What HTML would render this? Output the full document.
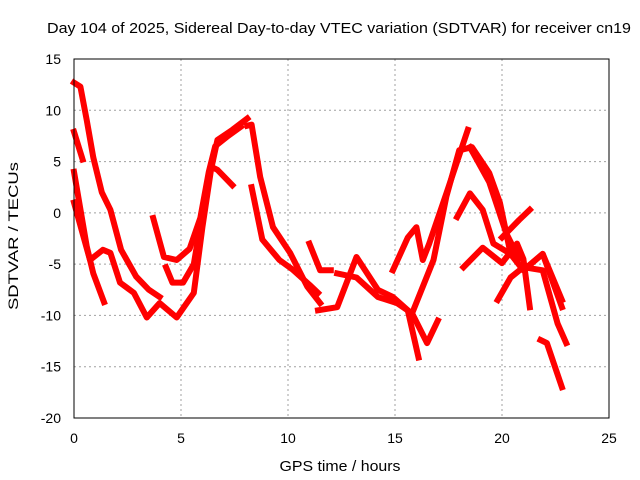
<!DOCTYPE html>
<html><head><meta charset="utf-8"><style>
body{margin:0;background:#fff}
svg{display:block;font-family:"Liberation Sans",sans-serif}
</style></head><body>
<svg id="chart" width="640" height="480" viewBox="0 0 640 480">
<text x="339" y="33" text-anchor="middle" font-size="15" textLength="584" lengthAdjust="spacingAndGlyphs">Day 104 of 2025, Sidereal Day-to-day VTEC variation (SDTVAR) for receiver cn19</text>
<text x="340" y="471" text-anchor="middle" font-size="15" textLength="121" lengthAdjust="spacingAndGlyphs">GPS time / hours</text>
<text transform="translate(18,236) rotate(-90)" text-anchor="middle" font-size="14" textLength="148" lengthAdjust="spacingAndGlyphs">SDTVAR / TECUs</text>
<g id="grid"></g><g id="series"></g>
<rect x="74" y="59" width="535" height="359" fill="none" stroke="#000" stroke-width="1"/>
</svg>
<script>
const xTicks=[0,5,10,15,20,25];
const yTicks=[15,10,5,0,-5,-10,-15,-20];
const s1h=[0,0.3,0.6,0.9,1.3,1.7,2.2,2.9,3.5,4.0];
const s1v=[12.7,12.3,9,5.4,2,0.3,-3.6,-6.2,-7.5,-8.2];
const s2h=[0,0.4];
const s2v=[7.9,5.2];
const s3h=[0,0.6,0.9,1.4];
const s3v=[4,-3.3,-5.9,-8.7];
const s4h=[0,0.75,1.35,1.7,2.15,2.8,3.4,4.0,4.8,5.6,6.0,6.4,6.7,7.4,8.1];
const s4v=[1,-4.6,-3.6,-3.9,-6.8,-7.8,-10.2,-8.8,-10.2,-7.8,-1.4,4.2,7.1,8.1,9.2];
const s5h=[3.7,4.2,4.8,5.4,5.9,6.3,6.6,7.2,7.8];
const s5v=[-0.5,-4.3,-4.6,-3.5,-0.5,4,6.5,7.5,8.4];
const s6h=[4.3,4.6,5.1,5.6,6.0,6.4,6.7,7.4];
const s6v=[-5.3,-6.8,-6.8,-5,0,4.5,4.2,2.7];
const s7h=[8.1,8.3,8.7,9.3,10.1,10.9,11.5];
const s7v=[8.5,8.6,3.5,-1.4,-3.9,-7.2,-8.8];
const s8h=[8.3,8.8,9.6,10.2,11.0,11.4];
const s8v=[2.5,-2.6,-4.6,-5.5,-7,-7.8];
const s9h=[11,11.5,12];
const s9v=[-3,-5.6,-5.6];
const s10h=[11.4,12.3,13.2,14.2,14.9,15.6,16.1];
const s10v=[-9.5,-9.2,-4.3,-7.5,-8.2,-9.5,-14.1];
const s11h=[12.3,13.2,14.2,15.1,15.8,16.5,17];
const s11v=[-5.9,-6.3,-8.2,-8.8,-9.8,-12.7,-10.5];
const s12h=[14.9,15.6,16,16.3,16.6,17.4,18.4];
const s12v=[-5.6,-2.4,-1.4,-4.6,-3,1.9,8.1];
const s13h=[15.8,16.8,17.4,18,18.6,19.4,19.9,20.4,21,21.9,22.8];
const s13v=[-9.8,-4.6,1.6,6.1,6.4,3.9,1,-4,-5.6,-4,-9.2];
const s14h=[17.9,18.5,19.1,19.6,20.4,21,21.9,22.8];
const s14v=[-0.4,1.9,0.3,-3,-4,-5.6,-4,-8.5];
const s15h=[18.2,19.1,20,20.7,21,21.3];
const s15v=[-5.3,-3.4,-4.9,-3,-4.5,-9.2];
const s16h=[19.8,20.4,21,21.9,22.6,23];
const s16v=[-8.5,-6.3,-5.3,-5.6,-10.8,-12.7];
const s17h=[20,20.8,21.3];
const s17v=[-2.4,-0.7,0.3];
const s18h=[18.5,19.4,20.2,20.8];
const s18v=[6.4,3,-2,-4.5];
const s19h=[21.8,22.1,22.8];
const s19v=[-12.4,-12.7,-17];
const seriesList=[[s1h,s1v],[s2h,s2v],[s3h,s3v],[s4h,s4v],[s5h,s5v],[s6h,s6v],[s7h,s7v],[s8h,s8v],[s9h,s9v],[s10h,s10v],[s11h,s11v],[s12h,s12v],[s13h,s13v],[s14h,s14v],[s15h,s15v],[s16h,s16v],[s17h,s17v],[s18h,s18v],[s19h,s19v]];
const NS='http://www.w3.org/2000/svg';
const X=h=>74+h*535/25;
const Y=v=>59+(15-v)*359/35;
const grid=document.getElementById('grid');
xTicks.forEach(t=>{
  const l=document.createElementNS(NS,'line');
  l.setAttribute('x1',X(t));l.setAttribute('x2',X(t));l.setAttribute('y1',59);l.setAttribute('y2',418);
  l.setAttribute('stroke','#a0a0a0');l.setAttribute('stroke-dasharray','2,3');
  
  
  grid.appendChild(l);
  const tx=document.createElementNS(NS,'text');
  tx.setAttribute('x',X(t));tx.setAttribute('y',443);tx.setAttribute('text-anchor','middle');tx.setAttribute('font-size','14');
  tx.textContent=t;
  
  
  grid.appendChild(tx);
});
yTicks.forEach(t=>{
  const l=document.createElementNS(NS,'line');
  l.setAttribute('x1',74);l.setAttribute('x2',609);l.setAttribute('y1',Y(t));l.setAttribute('y2',Y(t));
  l.setAttribute('stroke','#a0a0a0');l.setAttribute('stroke-dasharray','2,3');
  
  
  grid.appendChild(l);
  const tx=document.createElementNS(NS,'text');
  tx.setAttribute('x',61);tx.setAttribute('y',Y(t)+5);tx.setAttribute('text-anchor','end');tx.setAttribute('font-size','14');
  tx.textContent=t;
  
  
  grid.appendChild(tx);
});
const sg=document.getElementById('series');
seriesList.forEach(([hs,vs])=>{
  const p=document.createElementNS(NS,'polyline');
  p.setAttribute('points',hs.map((h,i)=>X(h).toFixed(1)+','+Y(vs[i]).toFixed(1)).join(' '));
  p.setAttribute('fill','none');p.setAttribute('stroke','#ff0000');p.setAttribute('stroke-width','6');
  p.setAttribute('stroke-linejoin','round');p.setAttribute('stroke-linecap','square');
  
  
  sg.appendChild(p);
});
</script>
</body></html>
